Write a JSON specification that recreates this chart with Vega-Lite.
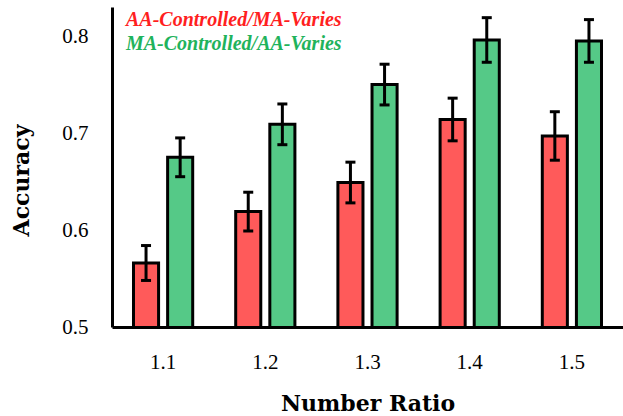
{
  "$schema": "https://vega.github.io/schema/vega-lite/v6.json",
  "width": 511,
  "height": 320,
  "autosize": {"type": "none"},
  "padding": {"left": 112, "top": 7, "right": 0, "bottom": 89},
  "background": "white",
  "config": {"view": {"stroke": null}, "font": "Liberation Serif"},
  "data": {
    "values": [
      {"ratio": "1.1", "cond": "AA-Controlled/MA-Varies", "acc": 0.566, "lo": 0.548, "hi": 0.584},
      {"ratio": "1.1", "cond": "MA-Controlled/AA-Varies", "acc": 0.675, "lo": 0.655, "hi": 0.695},
      {"ratio": "1.2", "cond": "AA-Controlled/MA-Varies", "acc": 0.619, "lo": 0.599, "hi": 0.639},
      {"ratio": "1.2", "cond": "MA-Controlled/AA-Varies", "acc": 0.709, "lo": 0.688, "hi": 0.730},
      {"ratio": "1.3", "cond": "AA-Controlled/MA-Varies", "acc": 0.649, "lo": 0.628, "hi": 0.670},
      {"ratio": "1.3", "cond": "MA-Controlled/AA-Varies", "acc": 0.750, "lo": 0.729, "hi": 0.771},
      {"ratio": "1.4", "cond": "AA-Controlled/MA-Varies", "acc": 0.714, "lo": 0.692, "hi": 0.736},
      {"ratio": "1.4", "cond": "MA-Controlled/AA-Varies", "acc": 0.796, "lo": 0.773, "hi": 0.819},
      {"ratio": "1.5", "cond": "AA-Controlled/MA-Varies", "acc": 0.697, "lo": 0.672, "hi": 0.722},
      {"ratio": "1.5", "cond": "MA-Controlled/AA-Varies", "acc": 0.795, "lo": 0.773, "hi": 0.817}
    ]
  },
  "encoding": {
    "x": {
      "field": "ratio",
      "type": "nominal",
      "scale": {"paddingInner": 0, "paddingOuter": 0},
      "axis": {
        "title": "Number Ratio",
        "labelAngle": 0,
        "ticks": false,
        "domainColor": "black",
        "domainWidth": 3,
        "labelPadding": 24,
        "labelFont": "Liberation Serif",
        "labelFontSize": 21,
        "labelColor": "black",
        "titleFont": "DejaVu Serif",
        "titleFontSize": 22,
        "titleFontWeight": "bold",
        "titleColor": "black",
        "titlePadding": 21,
        "zindex": 1
      }
    },
    "xOffset": {
      "field": "cond",
      "type": "nominal",
      "scale": {"domain": ["AA-Controlled/MA-Varies", "MA-Controlled/AA-Varies"], "paddingInner": 0.265, "paddingOuter": 0.63}
    }
  },
  "layer": [
    {
      "mark": {"type": "bar", "stroke": "black", "strokeWidth": 3, "clip": true},
      "encoding": {
        "y": {
          "field": "acc",
          "type": "quantitative",
          "scale": {"domain": [0.5, 0.83], "nice": false, "zero": false},
          "axis": {
            "title": "Accuracy",
            "values": [0.5, 0.6, 0.7, 0.8],
            "format": ".1f",
            "ticks": false,
            "grid": false,
            "domainColor": "black",
            "domainWidth": 3,
            "labelPadding": 24,
            "labelFont": "Liberation Serif",
            "labelFontSize": 21,
            "labelColor": "black",
            "titleFont": "DejaVu Serif",
            "titleFontSize": 22,
            "titleFontWeight": "bold",
            "titleColor": "black",
            "titleX": -79,
            "titleY": 173,
            "zindex": 1
          }
        },
        "color": {
          "field": "cond",
          "type": "nominal",
          "scale": {"domain": ["AA-Controlled/MA-Varies", "MA-Controlled/AA-Varies"], "range": ["#ff5a5a", "#55c987"]},
          "legend": {
            "orient": "none",
            "legendX": -6,
            "legendY": 3,
            "title": null,
            "symbolSize": 0,
            "symbolStrokeWidth": 0,
            "symbolOpacity": 0,
            "labelOffset": 0,
            "labelFont": "Liberation Serif",
            "labelFontStyle": "italic",
            "labelFontWeight": "bold",
            "labelFontSize": 20,
            "labelLimit": 400,
            "rowPadding": 4,
            "labelColor": {"expr": "datum.label === 'AA-Controlled/MA-Varies' ? '#ff1f1f' : '#1fb35c'"}
          }
        }
      }
    },
    {
      "mark": {"type": "rule", "strokeWidth": 3, "color": "black"},
      "encoding": {
        "y": {"field": "lo", "type": "quantitative"},
        "y2": {"field": "hi"}
      }
    },
    {
      "mark": {"type": "tick", "size": 10, "thickness": 3, "color": "black", "opacity": 1},
      "encoding": {
        "y": {"field": "lo", "type": "quantitative"}
      }
    },
    {
      "mark": {"type": "tick", "size": 10, "thickness": 3, "color": "black", "opacity": 1},
      "encoding": {
        "y": {"field": "hi", "type": "quantitative"}
      }
    }
  ]
}
